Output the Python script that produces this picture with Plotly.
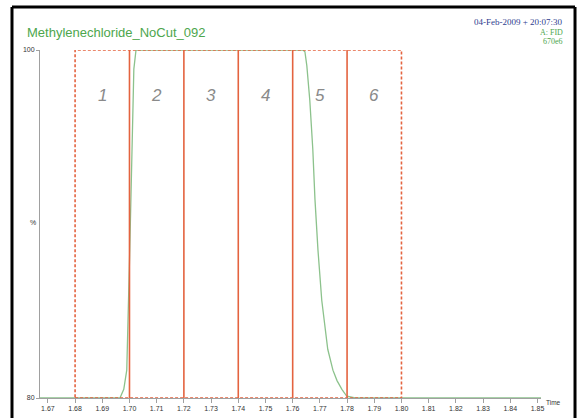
import plotly.graph_objects as go

# ---- data ----
time = [1.6671, 1.6965, 1.6979, 1.6990, 1.7001, 1.7009, 1.7016, 1.7024,
        1.7638, 1.7645, 1.7652, 1.7663, 1.7674, 1.7682, 1.7693, 1.7707,
        1.7729, 1.7748, 1.7763, 1.7781, 1.7799, 1.7830, 1.8513]
signal = [80.0, 80.0, 80.5, 81.6, 88.5, 94.3, 98.9, 100.0,
          100.0, 99.9, 99.1, 97.1, 94.3, 91.4, 88.5, 85.6,
          82.8, 81.6, 81.0, 80.5, 80.1, 80.0, 80.0]

cut_bounds = [1.68, 1.80]
cut_lines = [1.70, 1.72, 1.74, 1.76, 1.78]
region_centers = [1.69, 1.71, 1.73, 1.75, 1.77, 1.79]
region_labels = ["1", "2", "3", "4", "5", "6"]

x_ticks = [1.67, 1.68, 1.69, 1.70, 1.71, 1.72, 1.73, 1.74, 1.75, 1.76,
           1.77, 1.78, 1.79, 1.80, 1.81, 1.82, 1.83, 1.84, 1.85]
y_ticks = [80, 100]

title_text = "Methylenechloride_NoCut_092"
stamp_text = "04-Feb-2009 + 20:07:30"
channel_text = "A: FID"
scale_text = "670e6"

RED = "#E4633F"
GREEN_LINE = "#8CC28C"
GREEN_TEXT = "#4DA64D"

fig = go.Figure()
fig.add_trace(go.Scatter(x=time, y=signal, mode="lines",
                         line=dict(color=GREEN_LINE, width=1.3),
                         hoverinfo="skip", showlegend=False))

shapes = []
# dashed cut window
shapes.append(dict(type="rect", xref="x", yref="y",
                   x0=cut_bounds[0], x1=cut_bounds[1], y0=80, y1=100,
                   line=dict(color=RED, width=1.6, dash="3px,2px")))
for c in cut_lines:
    shapes.append(dict(type="line", xref="x", yref="y", x0=c, x1=c, y0=80, y1=100,
                       line=dict(color=RED, width=1.6)))
# black frame (left, top, right)
fx0, fx1, fy1 = -0.0559, 1.0679, 1.1236
for (a, b, c, d) in [(fx0, -0.1, fx0, fy1), (fx0, fy1, fx1, fy1), (fx1, fy1, fx1, -0.1)]:
    shapes.append(dict(type="line", xref="paper", yref="paper", x0=a, y0=b, x1=c, y1=d,
                       line=dict(color="black", width=3)))

annotations = []
for xc, lab in zip(region_centers, region_labels):
    annotations.append(dict(x=xc, y=97.4, xref="x", yref="y", text="<i>%s</i>" % lab,
                            showarrow=False, font=dict(family="Liberation Sans, Arial",
                                                       size=17, color="#8A8A8A")))
annotations.append(dict(x=-0.030, y=1.049, xref="paper", yref="paper", text=title_text,
                        showarrow=False, xanchor="left", yanchor="middle",
                        font=dict(family="Liberation Sans, Arial", size=13, color=GREEN_TEXT)))
annotations.append(dict(x=1.048, y=1.080, xref="paper", yref="paper", text=stamp_text,
                        showarrow=False, xanchor="right", yanchor="middle",
                        font=dict(family="Liberation Serif, Times New Roman", size=9,
                                  color="#2F3D8F")))
annotations.append(dict(x=1.048, y=1.050, xref="paper", yref="paper", text=channel_text,
                        showarrow=False, xanchor="right", yanchor="middle",
                        font=dict(family="Liberation Serif, Times New Roman", size=8,
                                  color=GREEN_TEXT)))
annotations.append(dict(x=1.048, y=1.025, xref="paper", yref="paper", text=scale_text,
                        showarrow=False, xanchor="right", yanchor="middle",
                        font=dict(family="Liberation Serif, Times New Roman", size=8,
                                  color=GREEN_TEXT)))
annotations.append(dict(x=1.006, y=-0.012, xref="paper", yref="paper", text="Time",
                        showarrow=False, xanchor="left", yanchor="middle",
                        font=dict(family="Liberation Sans, Arial", size=6.5, color="#333333")))
annotations.append(dict(x=-0.004, y=0.503, xref="paper", yref="paper", text="%",
                        showarrow=False, xanchor="right", yanchor="middle",
                        font=dict(family="Liberation Sans, Arial", size=7, color="#333333")))

fig.update_layout(
    width=579, height=418,
    margin=dict(l=40, r=38, t=50, b=20, autoexpand=False),
    paper_bgcolor="white", plot_bgcolor="white",
    shapes=shapes, annotations=annotations, showlegend=False,
    xaxis=dict(range=[1.6671, 1.8513], tickvals=x_ticks, automargin=False,
               ticktext=["%.2f" % t for t in x_ticks],
               showgrid=False, zeroline=False, showline=True, linecolor="#A0A0A0",
               linewidth=1, ticks="outside", ticklen=4, tickcolor="#A0A0A0",
               tickfont=dict(family="Liberation Sans, Arial", size=7, color="#333333")),
    yaxis=dict(range=[80, 100], tickvals=y_ticks, ticktext=[str(v) for v in y_ticks],
               automargin=False,
               showgrid=False, zeroline=False, showline=True, linecolor="#A0A0A0",
               linewidth=1, ticks="outside", ticklen=3, tickcolor="#A0A0A0",
               tickfont=dict(family="Liberation Sans, Arial", size=7, color="#333333")),
)

fig.write_html("out.html", config={"displayModeBar": False},
               post_script="document.body.style.margin='0';document.body.style.overflow='hidden';")
